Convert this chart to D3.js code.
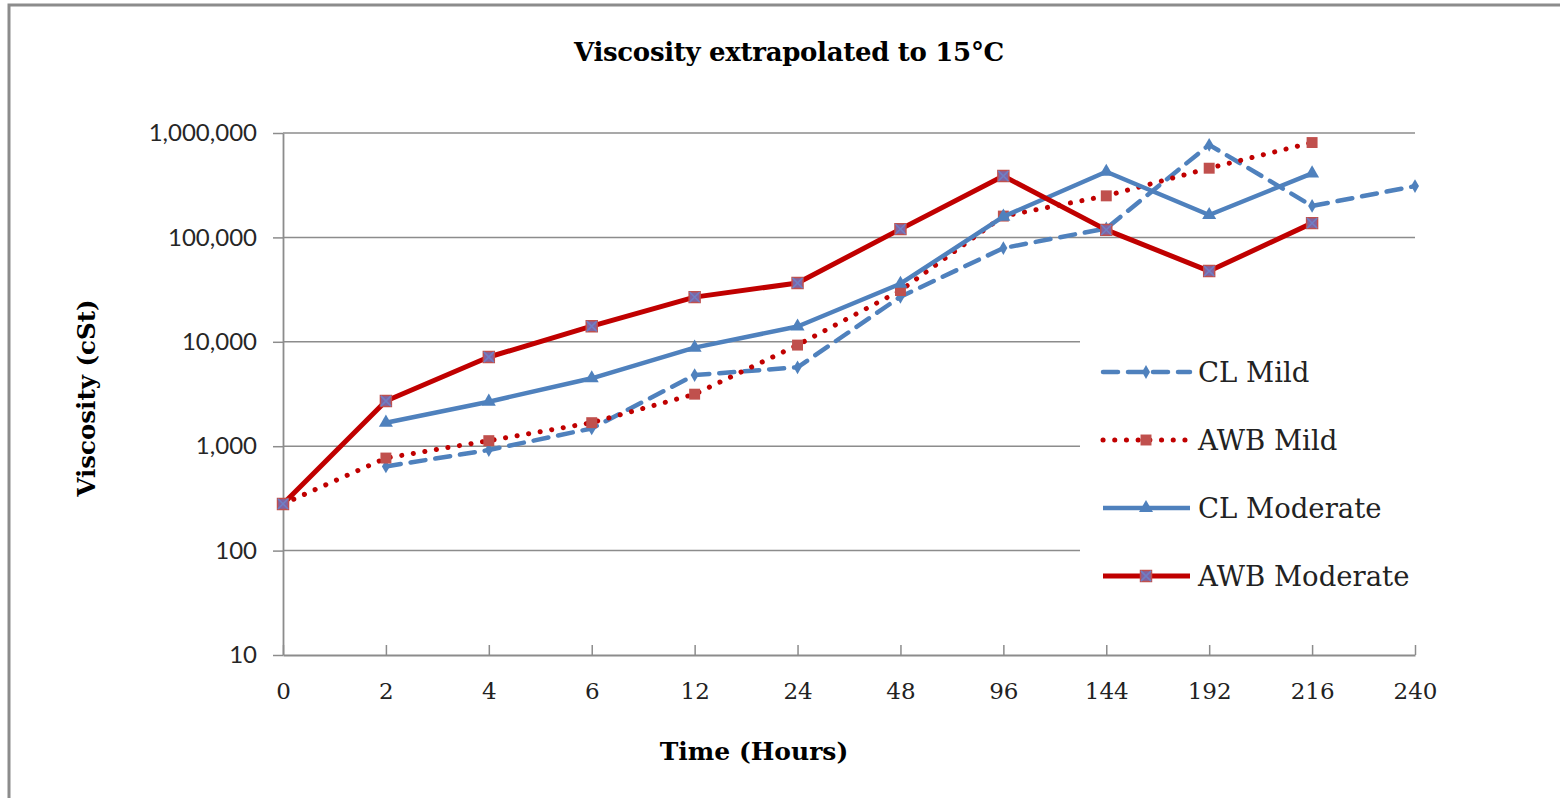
<!DOCTYPE html>
<html>
<head>
<meta charset="utf-8">
<script src="https://cdn.jsdelivr.net/npm/d3@7"></script>
<style>
  html, body { margin: 0; padding: 0; background: #fff; }
  svg { display: block; }
</style>
</head>
<body>
<svg id="chart" width="1560" height="798"></svg>
<script>
// values (log scale, cSt)
const hours = ['0', '2', '4', '6', '12', '24', '48', '96', '144', '192', '216', '240'];
const clMild = [null, 640, 920, 1480, 4800, 5700, 27000, 79000, 122000, 770000, 200000, 310000];
const awbMild = [280, 770, 1130, 1680, 3150, 9300, 31000, 160000, 250000, 460000, 810000, null];
const clModerate = [null, 1680, 2670, 4470, 8800, 14000, 36000, 158000, 425000, 164000, 410000, null];
const awbModerate = [280, 2710, 7150, 14100, 26800, 36600, 120000, 387000, 118000, 47600, 137000, null];
const yTicks = [10, 100, 1000, 10000, 100000, 1000000];

const blue = '#4f81bd';
const red = '#c00000';
const grey = '#8c8c8c';
const serif = "'DejaVu Serif', serif";
const sans = "Lato, 'Open Sans', sans-serif";

const series = [
  { name: 'CL Mild', values: clMild, color: blue, width: 4.5, dash: '15,10', marker: 'diamond' },
  { name: 'AWB Mild', values: awbMild, color: red, width: 5, dash: '0.1,11.6', marker: 'square' },
  { name: 'CL Moderate', values: clModerate, color: blue, width: 4.5, dash: null, marker: 'triangle' },
  { name: 'AWB Moderate', values: awbModerate, color: red, width: 5, dash: null, marker: 'xsquare' },
];

const svg = d3.select('#chart');

const x = d3.scalePoint().domain(hours).range([283, 1415]);
const y = d3.scaleLog().domain([10, 1e6]).range([655, 133]);

// outer frame (only left/top edges visible in the crop)
svg.append('rect')
  .attr('x', 9).attr('y', 5)
  .attr('width', 1700).attr('height', 900)
  .attr('fill', 'none')
  .attr('stroke', grey)
  .attr('stroke-width', 3);

// gridlines
svg.append('g').selectAll('line')
  .data(yTicks.slice(1))
  .join('line')
  .attr('x1', x.range()[0]).attr('x2', x.range()[1])
  .attr('y1', d => y(d)).attr('y2', d => y(d))
  .attr('stroke', grey)
  .attr('stroke-width', 1.5);

// axes
const yAxis = svg.append('g')
  .attr('transform', `translate(${x.range()[0]},0)`)
  .call(d3.axisLeft(y).tickValues(yTicks).tickFormat(d3.format(','))
    .tickSize(10).tickSizeOuter(0).tickPadding(16));

const xAxis = svg.append('g')
  .attr('transform', `translate(0,${y.range()[0]})`)
  .call(d3.axisBottom(x).tickSize(-10).tickSizeOuter(0).tickPadding(28));

[yAxis, xAxis].forEach(ax => {
  ax.select('.domain').attr('stroke', grey).attr('stroke-width', 1.8);
  ax.selectAll('.tick line').attr('stroke', grey).attr('stroke-width', 1.5);
});
yAxis.selectAll('.tick text')
  .attr('font-family', sans).attr('font-size', 24).attr('fill', '#262626');
xAxis.selectAll('.tick text')
  .attr('font-family', serif).attr('font-size', 23).attr('fill', '#222');

// legend background hides the gridlines behind it
svg.append('rect')
  .attr('x', 1080).attr('y', 305)
  .attr('width', 360).attr('height', 310)
  .attr('fill', '#fff');

function drawMarker(sel, kind) {
  if (kind === 'diamond') {
    sel.append('path').attr('d', d3.symbol(d3.symbolDiamond, 55)).attr('fill', blue);
  } else if (kind === 'triangle') {
    sel.append('path').attr('d', d3.symbol(d3.symbolTriangle, 85)).attr('fill', blue);
  } else if (kind === 'square') {
    sel.append('path').attr('d', d3.symbol(d3.symbolSquare, 120)).attr('fill', '#c0504d');
  } else {
    sel.append('path').attr('d', d3.symbol(d3.symbolSquare, 120))
      .attr('fill', '#8064a2').attr('stroke', '#c0504d').attr('stroke-width', 1.5);
    sel.append('path').attr('d', d3.symbol(d3.symbolTimes, 70))
      .attr('fill', 'none').attr('stroke', '#6f7fc4').attr('stroke-width', 1.6);
  }
}

const line = d3.line()
  .defined(d => d.v != null)
  .x(d => x(d.h))
  .y(d => y(d.v));

series.forEach(s => {
  const pts = hours.map((h, i) => ({ h, v: s.values[i] }));
  const g = svg.append('g');
  g.append('path')
    .datum(pts)
    .attr('d', line)
    .attr('fill', 'none')
    .attr('stroke', s.color)
    .attr('stroke-width', s.width)
    .attr('stroke-linecap', s.dash ? 'round' : 'butt')
    .attr('stroke-linejoin', 'round')
    .attr('stroke-dasharray', s.dash);
  g.selectAll('g.mk')
    .data(pts.filter(d => d.v != null))
    .join('g')
    .attr('class', 'mk')
    .attr('transform', d => `translate(${x(d.h)},${y(d.v)})`)
    .each(function () { drawMarker(d3.select(this), s.marker); });
});

// legend
const legend = svg.append('g').attr('transform', 'translate(1103,372)');
series.forEach((s, i) => {
  const row = legend.append('g').attr('transform', `translate(0,${i * 68})`);
  row.append('line')
    .attr('x1', 0).attr('x2', 87)
    .attr('stroke', s.color)
    .attr('stroke-width', s.width)
    .attr('stroke-linecap', s.dash ? 'round' : 'butt')
    .attr('stroke-dasharray', s.dash);
  drawMarker(row.append('g').attr('transform', 'translate(43,0)'), s.marker);
  row.append('text')
    .attr('x', 95).attr('dy', '0.36em')
    .attr('font-family', serif).attr('font-size', 27.5).attr('fill', '#222')
    .text(s.name);
});

// titles
svg.append('text')
  .attr('x', 789).attr('y', 61)
  .attr('text-anchor', 'middle')
  .attr('font-family', serif).attr('font-weight', 'bold').attr('font-size', 26)
  .attr('letter-spacing', -0.3)
  .text('Viscosity extrapolated to 15°C');

svg.append('text')
  .attr('x', 754).attr('y', 760)
  .attr('text-anchor', 'middle')
  .attr('font-family', serif).attr('font-weight', 'bold').attr('font-size', 25)
  .text('Time (Hours)');

svg.append('text')
  .attr('transform', 'translate(95,398) rotate(-90)')
  .attr('text-anchor', 'middle')
  .attr('font-family', serif).attr('font-weight', 'bold').attr('font-size', 24.5)
  .text('Viscosity (cSt)');
</script>
</body>
</html>
